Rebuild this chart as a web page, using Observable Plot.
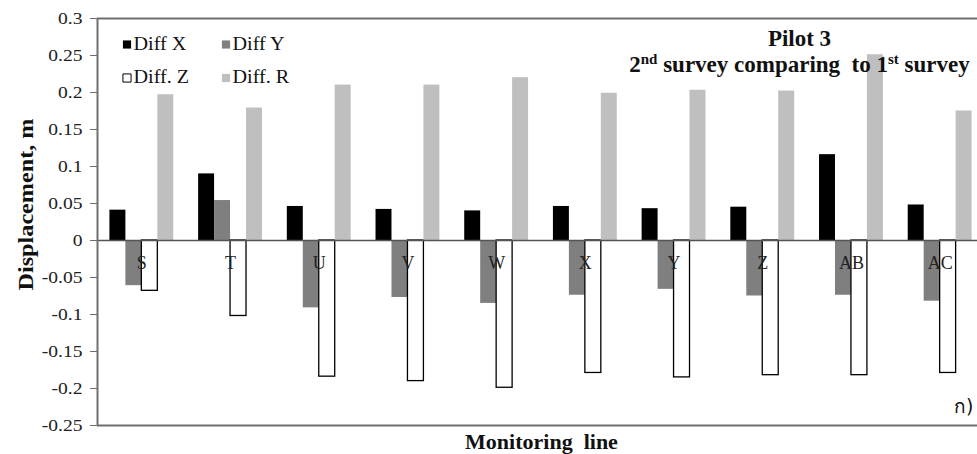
<!DOCTYPE html>
<html>
<head>
<meta charset="utf-8">
<script src="https://cdn.jsdelivr.net/npm/d3@7"></script>
<script src="https://cdn.jsdelivr.net/npm/@observablehq/plot@0.6"></script>
<style>
  body { margin: 0; background: #fff; }
  #chart { width: 977px; height: 454px; overflow: hidden; }
  svg text { white-space: pre; }
</style>
</head>
<body>
<div id="chart"></div>
<script>
// ---------- data ----------
const categories = ["S", "T", "U", "V", "W", "X", "Y", "Z", "AB", "AC"];
const seriesNames = ["Diff X", "Diff Y", "Diff. Z", "Diff. R"];
const diffX = [0.041, 0.090, 0.046, 0.042, 0.040, 0.046, 0.043, 0.045, 0.116, 0.048];
const diffY = [-0.061, 0.054, -0.091, -0.077, -0.085, -0.074, -0.066, -0.075, -0.074, -0.082];
const diffZ = [-0.068, -0.102, -0.184, -0.190, -0.199, -0.179, -0.185, -0.182, -0.182, -0.179];
const diffR = [0.197, 0.179, 0.210, 0.210, 0.220, 0.199, 0.203, 0.202, 0.251, 0.175];
const yTicks = [0.3, 0.25, 0.2, 0.15, 0.1, 0.05, 0, -0.05, -0.1, -0.15, -0.2, -0.25];
const yTickLabels = ["0.3", "0.25", "0.2", "0.15", "0.1", "0.05", "0", "-0.05", "-0.1", "-0.15", "-0.2", "-0.25"];
const yDomain = [-0.25, 0.3];
const titleLines = ["Pilot 3", "2nd survey comparing  to 1st survey"];
const xTitle = "Monitoring  line";
const yTitle = "Displacement, m";
const panelTag = "ก)";

// ---------- styles ----------
const fills = ["#000000", "#7f7f7f", "#ffffff", "#bfbfbf"];
const strokes = ["none", "none", "#000000", "none"];
const barW = 0.18;                       // bar width as fraction of a category step
const groupPad = (1 - 4 * barW) / 2;     // padding each side of a group
const serif = "Liberation Serif";
const frameColor = "#6f6f6f";

const seriesValues = [diffX, diffY, diffZ, diffR];
const rows = [];
categories.forEach((c, i) => seriesValues.forEach((vals, j) =>
  rows.push({cat: c, i, j, series: seriesNames[j], value: vals[i]})));

const tickMap = new Map(yTicks.map((v, k) => [v, yTickLabels[k]]));

const marks = [];
// bars
seriesNames.forEach((name, j) => {
  marks.push(Plot.rect(rows.filter(d => d.j === j), {
    x1: d => d.i + groupPad + d.j * barW,
    x2: d => d.i + groupPad + (d.j + 1) * barW,
    y1: 0,
    y2: "value",
    fill: fills[j],
    stroke: strokes[j],
    strokeWidth: 1.3
  }));
});
// frame lines
marks.push(Plot.ruleY([0], {stroke: "#555", strokeWidth: 1.5}));
marks.push(Plot.ruleY(yDomain, {stroke: frameColor, strokeWidth: 2}));
marks.push(Plot.ruleX([0], {stroke: frameColor, strokeWidth: 2}));
// y axis
marks.push(Plot.axisY(yTicks, {
  tickSize: 7, tickPadding: 8, fontSize: 17, fontFamily: serif,
  tickFormat: d => tickMap.get(d),
  stroke: frameColor, fill: "#222", label: null
}));
// category labels
marks.push(Plot.text(categories, {
  x: (d, i) => i + 0.5, y: 0, text: d => d, dy: 23,
  fontSize: 18, fill: "#222", fontFamily: serif, lineAnchor: "middle"
}));
// legend
seriesNames.forEach((name, k) => {
  const col = k % 2, row = Math.floor(k / 2);
  marks.push(Plot.dot([name], {
    frameAnchor: "top-left", dx: 29.5 + col * 99, dy: 26 + row * 33.5,
    symbol: "square", r: 4.6, fill: fills[k],
    stroke: strokes[k], strokeWidth: 1
  }));
  marks.push(Plot.text([name], {
    frameAnchor: "top-left", dx: 36 + col * 99, dy: 25.5 + row * 33.5,
    text: d => d, textAnchor: "start", lineAnchor: "middle",
    fontSize: 18, fill: "#111", fontFamily: serif
  }));
});
// titles
marks.push(Plot.text([titleLines[0]], {
  frameAnchor: "top-right", dx: -178, dy: 20, text: d => d,
  textAnchor: "middle", lineAnchor: "middle",
  fontSize: 23, fontWeight: "bold", fill: "#111", fontFamily: serif
}));
marks.push(Plot.text([titleLines[1]], {
  frameAnchor: "top-right", dx: -178, dy: 46, text: d => d,
  textAnchor: "middle", lineAnchor: "middle",
  fontSize: 23, fontWeight: "bold", fill: "#111", fontFamily: serif
}));
// axis titles
marks.push(Plot.text([xTitle], {
  frameAnchor: "bottom", dx: 4, dy: 16, text: d => d,
  textAnchor: "middle", lineAnchor: "middle",
  fontSize: 22, fontWeight: "bold", fill: "#111", fontFamily: serif
}));
marks.push(Plot.text([yTitle], {
  frameAnchor: "left", dx: -72, dy: -17.5, rotate: -90, text: d => d,
  textAnchor: "middle", lineAnchor: "middle",
  fontSize: 22, fontWeight: "bold", fill: "#111", fontFamily: serif
}));
// panel tag
marks.push(Plot.text([panelTag], {
  frameAnchor: "bottom-right", dx: -4, dy: -19, text: d => d,
  textAnchor: "end", lineAnchor: "middle", fontSize: 19, fill: "#111",
  fontFamily: "DejaVu Sans, Noto Sans, sans-serif"
}));

const chart = Plot.plot({
  width: 977,
  height: 454,
  marginLeft: 97,
  marginRight: 0,
  marginTop: 18,
  marginBottom: 29,
  style: {fontFamily: serif, background: "#fff", color: "#111"},
  x: {type: "linear", domain: [0, categories.length], range: [97, 97 + 88.7 * categories.length], axis: null},
  y: {domain: yDomain, axis: null},
  marks
});
document.getElementById("chart").appendChild(chart);

// ---------- post-processing: superscripts & horizontal stretch ----------
function stretch(el, s) {
  const t = el.getAttribute("transform") || "";
  el.setAttribute("transform", t + ` scale(${s},1)`);
  const x = el.getAttribute("x");
  if (x) el.setAttribute("x", +x / s);
}
const svg = chart.tagName.toLowerCase() === "svg" ? chart : chart.querySelector("svg");
svg.querySelectorAll("text").forEach(el => {
  const txt = el.textContent;
  const parentLabel = (el.parentNode.getAttribute("aria-label") || "");
  if (parentLabel.includes("tick label")) stretch(el, 1.15);
  else if (seriesNames.includes(txt)) stretch(el, 1.12);
  else if (txt === yTitle) stretch(el, 1.1);
  if (txt === titleLines[1]) {
    const parts = txt.split(/(\d)(st|nd|rd|th)\b/);
    el.textContent = "";
    const ns = "http://www.w3.org/2000/svg";
    let shifted = false;
    for (let p = 0; p < parts.length; p++) {
      const s = parts[p];
      if (!s) continue;
      const ts = document.createElementNS(ns, "tspan");
      ts.textContent = s;
      const isSup = (p % 3 === 2);
      if (isSup) { ts.setAttribute("font-size", "15"); ts.setAttribute("dy", "-8"); shifted = true; }
      else if (shifted) { ts.setAttribute("dy", "8"); shifted = false; }
      el.appendChild(ts);
    }
  }
});
</script>
</body>
</html>
